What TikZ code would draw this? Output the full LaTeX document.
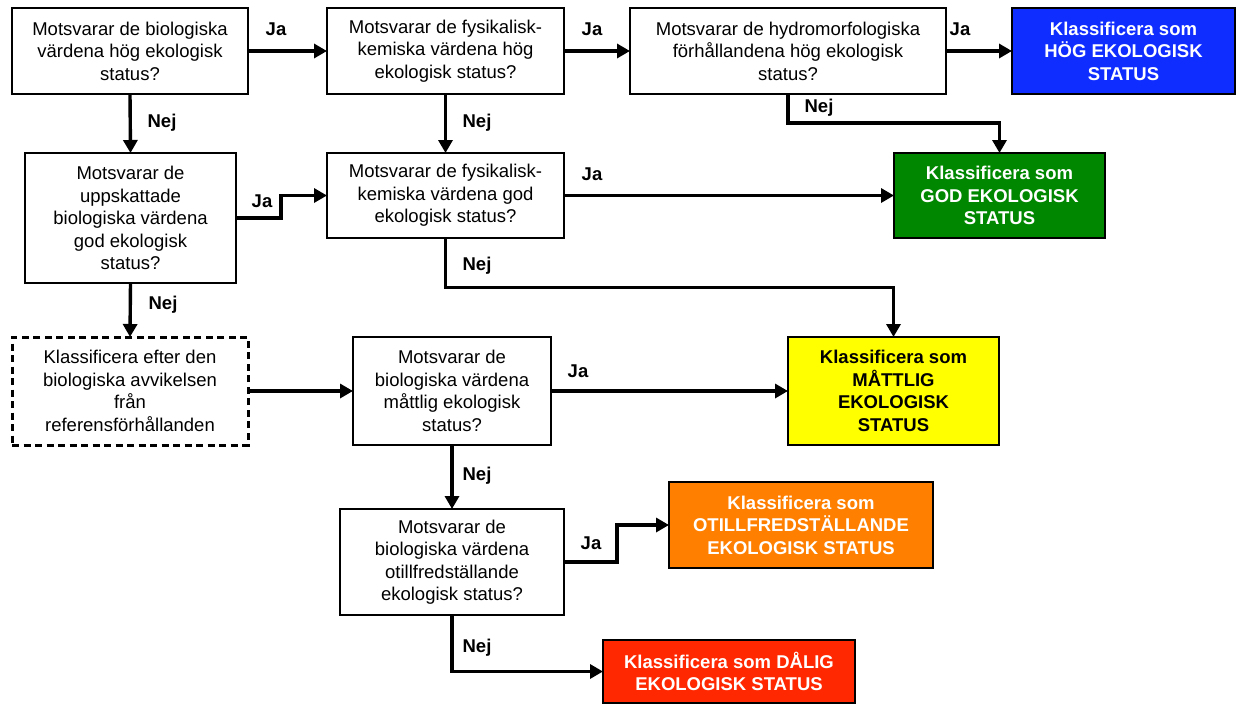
\documentclass[tikz,border=0pt]{standalone}
\usepackage{fontspec}
\setmainfont{Liberation Sans}
\usetikzlibrary{arrows.meta}
\definecolor{cblue}{RGB}{15,45,255}
\definecolor{cgreen}{RGB}{0,135,0}
\definecolor{cyellow}{RGB}{255,255,0}
\definecolor{corange}{RGB}{255,128,0}
\definecolor{cred}{RGB}{255,40,0}
\tikzset{
  box/.style={draw=black, line width=1.8pt, fill=white, align=center, inner sep=0pt, outer sep=0pt,
    font=\fontsize{18.5}{22.5}\selectfont},
  dashbox/.style={box, line width=3pt, dash pattern=on 7pt off 4.5pt},
  resbox/.style={box, text=white, font=\fontsize{18.5}{22.5}\selectfont\bfseries},
  conn/.style={line width=3.4pt, -{Triangle[length=13pt,width=14pt]}},
  lbl/.style={font=\fontsize{18.5}{22.5}\selectfont\bfseries, inner sep=0pt}
}
\begin{document}
\begin{tikzpicture}[x=1pt,y=-1pt]
\useasboundingbox (0,0) rectangle (1236,704);

% question boxes
\node[box, minimum width=236pt, minimum height=86pt] (a1) at (130,51)
  {Motsvarar de biologiska\\värdena hög ekologisk\\status?};
\node[box, minimum width=237pt, minimum height=86pt] (a2) at (445.5,51)
  {Motsvarar de fysikalisk-\\kemiska värdena hög\\ekologisk status?};
\node[box, minimum width=316pt, minimum height=86pt] (a3) at (788,51)
  {Motsvarar de hydromorfologiska\\förhållandena hög ekologisk\\status?};
\node[resbox, fill=cblue, minimum width=223pt, minimum height=86pt] (hog) at (1123.5,51)
  {Klassificera som\\HÖG EKOLOGISK\\STATUS};

\node[box, minimum width=211pt, minimum height=130pt] (b1) at (130.5,218)
  {Motsvarar de\\uppskattade\\biologiska värdena\\god ekologisk\\status?};
\node[box, minimum width=237pt, minimum height=85pt] (b2) at (445.5,195.5)
  {Motsvarar de fysikalisk-\\kemiska värdena god\\ekologisk status?};
\node[resbox, fill=cgreen, minimum width=211pt, minimum height=85pt] (god) at (999.5,195.5)
  {Klassificera som\\GOD EKOLOGISK\\STATUS};

\node[dashbox, minimum width=236pt, minimum height=108pt] (c1) at (130,391)
  {Klassificera efter den\\biologiska avvikelsen\\från\\referensförhållanden};
\node[box, minimum width=198pt, minimum height=108pt] (c2) at (452,391)
  {Motsvarar de\\biologiska värdena\\måttlig ekologisk\\status?};
\node[resbox, fill=cyellow, text=black, minimum width=211pt, minimum height=108pt] (matt) at (893.5,391)
  {Klassificera som\\MÅTTLIG\\EKOLOGISK\\STATUS};

\node[box, minimum width=224pt, minimum height=106pt] (d1) at (452,562)
  {Motsvarar de\\biologiska värdena\\otillfredställande\\ekologisk status?};
\node[resbox, fill=corange, minimum width=264pt, minimum height=86pt] (otill) at (801,525)
  {Klassificera som\\OTILLFREDSTÄLLANDE\\EKOLOGISK STATUS};
\node[resbox, fill=cred, minimum width=252pt, minimum height=63pt] (dalig) at (729,671.5)
  {Klassificera som DÅLIG\\EKOLOGISK STATUS};

% connectors
\draw[conn] (a1.east) -- (a2.west);
\draw[conn] (a2.east) -- (a3.west);
\draw[conn] (a3.east) -- (hog.west);
\draw[conn] (a1.south) -- (b1.north);
\draw[conn] (a2.south) -- (b2.north);
\draw[conn] (a3.south) -- ++(0,29) -| (god.north);
\draw[conn] (b1.east) -- ++(45,0) |- (b2.west);
\draw[conn] (b2.east) -- (god.west);
\draw[conn] (b2.south) -- ++(0,49.5) -| (matt.north);
\draw[conn] (b1.south) -- (c1.north);
\draw[conn] (c1.east) -- (c2.west);
\draw[conn] (c2.east) -- (matt.west);
\draw[conn] (c2.south) -- (d1.north);
\draw[conn] (d1.east) -- ++(53,0) |- (otill.west);
\draw[conn] (d1.south) |- (dalig.west);

% labels
\node[lbl] (l1) at (276,29) {Ja};
\node[lbl] (l2) at (592,29) {Ja};
\node[lbl] (l3) at (960,29) {Ja};
\node[lbl] (l4) at (162,123) {Nej};
\node[lbl] (l5) at (477,123) {Nej};
\node[lbl] (l6) at (819,108) {Nej};
\node[lbl] (l7) at (262,201) {Ja};
\node[lbl] (l8) at (592,174) {Ja};
\node[lbl] (l9) at (477,266) {Nej};
\node[lbl] (l10) at (163,305) {Nej};
\node[lbl] (l11) at (578,371) {Ja};
\node[lbl] (l12) at (477,476) {Nej};
\node[lbl] (l13) at (591,543) {Ja};
\node[lbl] (l14) at (477,648) {Nej};
\end{tikzpicture}
\end{document}
